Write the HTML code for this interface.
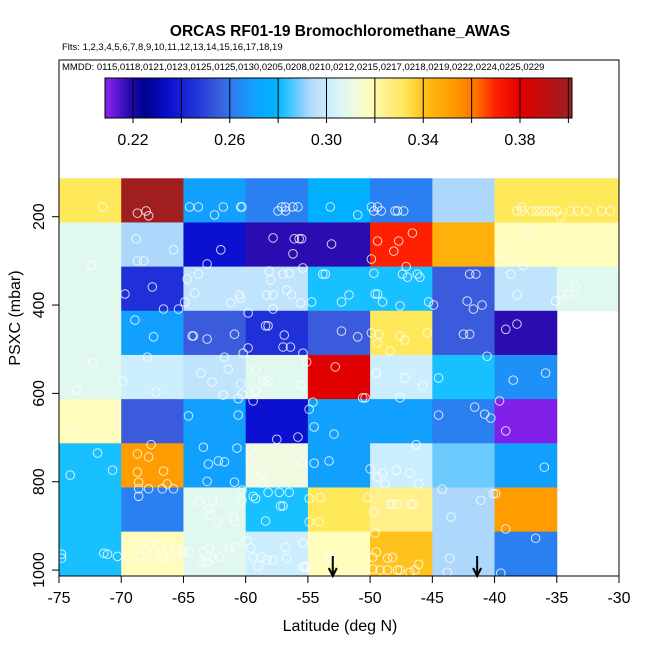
<!DOCTYPE html>
<html><head><meta charset="utf-8"><style>
body{margin:0;background:#fff;font-family:"Liberation Sans",sans-serif}
svg text{font-family:"Liberation Sans",sans-serif}
</style></head><body>
<svg id="chart" width="650" height="650" xmlns="http://www.w3.org/2000/svg">
<text x="340" y="36" text-anchor="middle" font-size="15.5" font-weight="bold">ORCAS RF01-19 Bromochloromethane_AWAS</text>
<text x="62" y="50" font-size="9.5">Flts: 1,2,3,4,5,6,7,8,9,10,11,12,13,14,15,16,17,18,19</text>
<g id="cells"></g>
<g id="pts"></g>
<g id="cbar"></g>
<g id="axes"></g>
</svg>
<script>
// ---- data ----
const latEdges = [-75,-70,-65,-60,-55,-50,-45,-40,-35,-30];
const presEdges = [113,213,313,413,513,613,713,813,913,1013];
// cell values: rows = pressure bins (top to bottom), columns = latitude bins; null = no data
const cellValues = [
 [0.332,0.400,0.270,0.262,0.278,0.262,0.293,0.332,0.332],
 [0.307,0.293,0.235,0.218,0.218,0.370,0.345,0.318,0.318],
 [0.307,0.245,0.297,0.297,0.282,0.282,0.255,0.297,0.307],
 [0.307,0.270,0.255,0.245,0.255,0.332,0.255,0.218,null],
 [0.307,0.301,0.297,0.307,0.380,0.301,0.282,0.266,null],
 [0.318,0.255,0.270,0.235,0.270,0.270,0.262,0.210,null],
 [0.282,0.352,0.270,0.312,0.270,0.301,0.288,0.270,null],
 [0.282,0.262,0.307,0.282,0.332,0.325,0.293,0.352,null],
 [0.282,0.318,0.307,0.301,0.318,0.340,0.293,0.262,null]
];
const cbarTicks = [0.22,0.26,0.30,0.34,0.38];
const cbarLines = [0.22,0.24,0.26,0.28,0.30,0.32,0.34,0.36,0.38,0.40];
const xTicks = [-75,-70,-65,-60,-55,-50,-45,-40,-35,-30];
const yTicks = [200,400,600,800,1000];
const arrowLats = [-53,-41.4];
const ptLat = [-71.5,-68.7,-68,-67.8,-64.5,-63.8,-62.5,-61.8,-60.4,-60.3,-57.4,-57.1,-56.8,-56.8,-56.2,-55.8,-53.2,-51,-49.9,-49.4,-49.7,-49.1,-48,-47.8,-47.3,-38.2,-37.8,-37,-36.6,-36.2,-35.8,-35.4,-35,-33.9,-33.3,-32.6,-31.4,-30.7,-37.8,-34.7,
-68.8,-65.8,-68.7,-68.2,-62,-63.1,-57.8,-56.1,-55.7,-55.5,-56.2,-72.4,-53.1,-49.9,-49.4,-47.7,-46.6,-48.1,-37.2,-39.6,-37.7,
-69.7,-67.5,-66.6,-65.4,-64.7,-63.8,-64.1,-64.9,-61.2,-60.5,-60.4,-58.1,-58,-57,-56.5,-58.3,-57.8,-56.7,-56.3,-55.6,-55.4,-57.8,-54.7,-53.8,-53.6,-51.7,-52.3,-49.7,-49.6,-49.4,-49,-47.4,-47,-47.1,-46.2,-46,-47.6,-45.3,-44.9,-42,-41.5,-42.2,-41.7,-41,-38.7,-38.2,-35.1,-34.6,-34.1,-33.5,
-68.9,-67.4,-64.3,-64.2,-63.1,-60.9,-59.8,-59.8,-60.2,-58.4,-58.2,-56.9,-57,-56.4,-55.4,-52.3,-51,-49.9,-49.3,-49.4,-47.6,-47.2,-45.4,-48.4,-42.5,-42,-39.1,-38.2,
-72.3,-73.6,-69.9,-67.9,-67.2,-63.6,-62.7,-61.7,-61.4,-61.8,-60.4,-60.3,-60.6,-59.2,-58.6,-58.2,-59.2,-55.5,-55.1,-52.8,-50.6,-50.4,-49.5,-47.2,-45.8,-47.6,-44.5,-40.6,-38.5,-35.9,
-70.5,-73.9,-64.6,-60.6,-59.4,-57.5,-55.8,-54.9,-54.6,-54.5,-52.9,-44.5,-41.6,-40.8,-40.3,-39.6,-39.1,
-71.9,-74.1,-70.7,-67.6,-68.7,-67.8,-68.7,-66.6,-68.6,-66.3,-63.4,-63,-62.2,-61.7,-60.7,-63.1,-60.9,-59.6,-59.6,-58.7,-58.7,-55.5,-54.5,-53.3,-46.3,-50,-49,-49.4,-48.8,-47.9,-46.8,-46.1,-36,
-68.6,-68.6,-67.8,-66.7,-65.8,-63.7,-62.6,-62.2,-63,-62.9,-62.3,-61,-60.9,-60.3,-60.3,-59.4,-59.2,-58.2,-57.3,-56.5,-57.2,-57,-58.4,-54.9,-54,-54.9,-54.1,-50.2,-49.7,-48.4,-48.2,-47.8,-46.7,-46.5,-44.2,-43.5,-41.1,-40.1,-39.9,-39.1,
-74.8,-74.8,-71.4,-71.1,-70.3,-69.5,-68.7,-68.5,-67.9,-67.7,-67.4,-67,-66.6,-66.2,-66.1,-65.5,-65.1,-64.6,-63.4,-62.9,-62.6,-62.1,-61.3,-60.9,-63.5,-63.1,-59.9,-59.6,-59.4,-58.7,-59,-58.3,-57.8,-56.8,-56.7,-55.4,-55.3,-55.1,-53.5,-53.2,-55.4,-55.1,-49.6,-49.5,-49.8,-48.6,-48.2,-49.8,-49.2,-48.6,-47.8,-47.6,-46.8,-46.4,-46.1,-43.6,-43.8,-36.7,-39.5];
const ptPres = [178,192,187,198,178,178,196,178,178,178,187,178,187,178,178,178,178,196,178,178,187,187,187,187,187,187,187,187,187,187,187,187,187,187,187,187,187,187,178,200,
250,275,300,300,275,307,248,250,250,250,284,310,262,296,255,255,237,278,237,285,311,
375,359,409,409,341,330,373,393,395,377,384,323,343,330,328,377,377,366,377,395,316,409,393,330,330,377,393,328,375,375,393,330,337,313,330,337,402,393,400,330,330,391,409,400,330,377,391,375,375,359,
434,472,470,470,477,466,418,497,509,447,447,468,495,495,509,459,472,463,466,486,470,479,463,504,466,466,455,443,
531,592,572,518,597,554,574,518,545,604,579,602,612,545,572,572,595,581,529,540,610,610,554,565,583,610,565,516,570,554,
651,690,651,649,617,704,699,636,620,676,692,649,631,647,656,617,685,
735,785,774,716,737,744,778,776,801,805,722,760,753,755,724,799,801,728,751,778,803,753,758,753,716,771,780,789,805,774,780,805,767,
833,816,816,816,816,844,844,844,862,875,891,880,891,819,842,833,838,824,824,824,855,855,889,838,836,891,891,836,869,851,851,851,851,851,817,880,842,827,827,907,
964,973,962,964,969,969,941,969,955,943,972,948,969,950,972,955,959,959,959,950,973,971,950,948,982,982,934,950,971,971,991,977,977,948,973,939,993,993,971,971,993,993,916,959,971,973,971,998,1000,1000,1000,1000,1005,1000,987,973,1005,928,1007];
const cmapVals = [0.210,0.218,0.225,0.235,0.245,0.255,0.262,0.270,0.278,0.282,0.288,0.293,0.297,0.301,0.307,0.312,0.318,0.325,0.332,0.340,0.345,0.352,0.362,0.370,0.380,0.400];
const cmapCols = ['#8020e8','#2a0cb0','#000090','#0c10d0','#2030d8','#3a5cdc','#2a80f0','#12a0ff','#00b0ff','#18c0ff','#6ccaff','#add8fc','#c0e4fc','#cceeff','#e0f8ee','#f0fae0','#fffcbc','#fff08a','#ffe85a','#ffc21c','#ffb00a','#ff9c00','#ff7000','#ff2000','#e00000','#a01e1e'];

// ---- scales ----
const X0=59, X1=619, Y0=60, Y1=576;
const xs = lat => X0 + (lat+75)*(X1-X0)/45;
const ys = p => 216.7 + (p-200)*0.4417;
const cbX0=105, cbX1=572, cbY0=78, cbY1=118;
const cs = v => 133 + (v-0.22)*(520-133)/0.16;
function hex(c){return [1,3,5].map(i=>parseInt(c.substr(i,2),16));}
function color(v){
  if(v<=cmapVals[0]) return cmapCols[0];
  for(let i=1;i<cmapVals.length;i++){
    if(v<=cmapVals[i]){
      const t=(v-cmapVals[i-1])/(cmapVals[i]-cmapVals[i-1]);
      const a=hex(cmapCols[i-1]), b=hex(cmapCols[i]);
      return 'rgb('+a.map((x,k)=>Math.round(x+(b[k]-x)*t)).join(',')+')';
    }
  }
  return cmapCols[cmapCols.length-1];
}
const NS='http://www.w3.org/2000/svg';
function mk(tag, parent, attrs){const e=document.createElementNS(NS,tag);for(const k in attrs)e.setAttribute(k,attrs[k]);parent.appendChild(e);return e;}

// cells
const gc=document.getElementById('cells');
cellValues.forEach((row,r)=>row.forEach((v,c)=>{
  if(v===null) return;
  const x=xs(latEdges[c]), y=ys(presEdges[r]);
  const e=mk('rect',gc,{x:x,y:y,width:xs(latEdges[c+1])-x+0.5,height:ys(presEdges[r+1])-y+0.5,fill:color(v)});
  
  
}));
// points
const gp=document.getElementById('pts');
ptLat.forEach((la,i)=>{
  const e=mk('circle',gp,{cx:xs(la),cy:ys(ptPres[i]),r:4.3,fill:'none',stroke:'rgba(255,255,255,0.8)','stroke-width':1});
  
  
});
// arrows
arrowLats.forEach(la=>{
  const x=xs(la);
  const g=mk('g',gp,{});
  
  
  mk('line',g,{x1:x,y1:556,x2:x,y2:575,stroke:'#000','stroke-width':2});
  mk('polyline',g,{points:(x-4)+',568 '+x+',576 '+(x+4)+',568',fill:'none',stroke:'#000','stroke-width':2});
});
// axes
const ga=document.getElementById('axes');
mk('rect',ga,{x:X0,y:Y0,width:X1-X0,height:Y1-Y0,fill:'none',stroke:'#000','stroke-width':1});
const mm=mk('text',ga,{x:62,y:70,'font-size':9.5});
mm.textContent='MMDD: 0115,0118,0121,0123,0125,0125,0130,0205,0208,0210,0212,0215,0217,0218,0219,0222,0224,0225,0229';


xTicks.forEach(t=>{
  const x=xs(t);
  mk('line',ga,{x1:x,y1:Y1,x2:x,y2:Y1+7,stroke:'#000'});
  const e=mk('text',ga,{x:x,y:603,'text-anchor':'middle','font-size':16});
  e.textContent=t;
  
  
});
yTicks.forEach(t=>{
  const y=ys(t);
  mk('line',ga,{x1:X0-7,y1:y,x2:X0,y2:y,stroke:'#000'});
  const e=mk('text',ga,{x:44,y:y,'text-anchor':'middle','font-size':16,transform:'rotate(-90 44 '+y+')'});
  e.textContent=t;
  
  
});
const xl=mk('text',ga,{x:340,y:631,'text-anchor':'middle','font-size':16});
xl.textContent='Latitude (deg N)';


const yl=mk('text',ga,{x:20,y:318,'text-anchor':'middle','font-size':16,transform:'rotate(-90 20 318)'});
yl.textContent='PSXC (mbar)';


// colorbar
const gb=document.getElementById('cbar');
for(let px=cbX0;px<cbX1;px++){
  const v=0.22+(px+0.5-133)*0.16/(520-133);
  mk('rect',gb,{x:px,y:cbY0,width:1.2,height:cbY1-cbY0,fill:color(v)});
}
cbarLines.forEach(v=>{
  const x=cs(v);
  mk('line',gb,{x1:x,y1:cbY0,x2:x,y2:cbY1+5,stroke:'#000','stroke-width':1});
});
mk('rect',gb,{x:cbX0,y:cbY0,width:cbX1-cbX0,height:cbY1-cbY0,fill:'none',stroke:'#000'});
cbarTicks.forEach(v=>{
  const e=mk('text',gb,{x:cs(v),y:145,'text-anchor':'middle','font-size':16});
  e.textContent=v.toFixed(2);
  
  
});
</script>
</body></html>
